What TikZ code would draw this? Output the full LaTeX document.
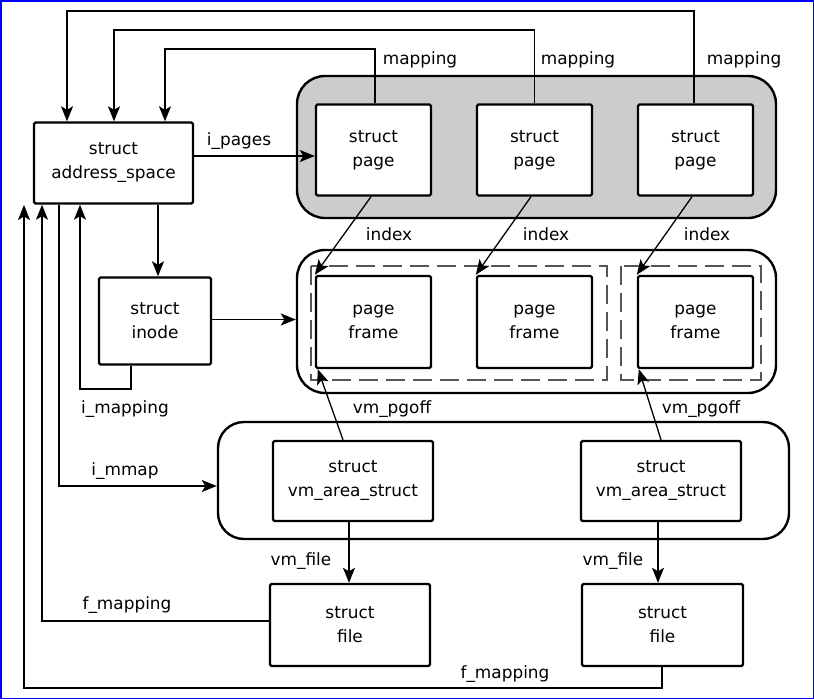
\documentclass[tikz,border=0pt]{standalone}
\usepackage{fontspec}
\setmainfont{DejaVu Sans}
\usetikzlibrary{arrows.meta,calc}
\definecolor{grp}{HTML}{CCCCCC}
\definecolor{dashc}{HTML}{555555}
\tikzset{
  box/.style={draw=black,line width=2.4pt,fill=white,rounded corners=1.5pt,align=center,inner sep=0pt,font=\fontsize{16.9}{24}\selectfont},
  grpbox/.style={draw=black,line width=2.4pt,rounded corners=28pt,inner sep=0pt},
  dashbox/.style={draw=dashc,line width=1.2pt,dash pattern=on 19pt off 8pt},
  conn/.style={draw=black,line width=1.3pt},
  arr/.style={conn,-{Stealth[length=15pt,width=12pt,inset=3.5pt]}},
  lbl/.style={font=\fontsize{16.9}{24}\selectfont,anchor=base,inner sep=0pt},
}
\begin{document}
\begin{tikzpicture}[x=1pt,y=-1pt]
\useasboundingbox (0,0) rectangle (814,699);
\draw[blue,line width=1.5pt] (0.75,0.75) rectangle (813.25,698.25);

% groups
\node[grpbox,fill=grp,minimum width=479pt,minimum height=142pt] (pg) at (536.5,147) {};
\node[grpbox,fill=white,minimum width=479pt,minimum height=143pt] (pfg) at (536.5,321.5) {};
\node[grpbox,fill=white,minimum width=571pt,minimum height=117pt,rounded corners=26pt] (vmg) at (503.5,480.5) {};

% dashed rectangles
\draw[dashbox] (311,266) rectangle (607,380);
\draw[dashbox] (621,266) rectangle (761,380);

% boxes
\node[box,minimum width=159pt,minimum height=81pt] (as) at (113.5,163) {struct\\address\_space};
\node[box,minimum width=115pt,minimum height=91pt] (p1) at (373.5,150) {struct\\page};
\node[box,minimum width=115pt,minimum height=91pt] (p2) at (534.5,150) {struct\\page};
\node[box,minimum width=115pt,minimum height=91pt] (p3) at (695.5,150) {struct\\page};
\node[box,minimum width=115pt,minimum height=92pt] (f1p) at (373.5,322) {page\\frame};
\node[box,minimum width=115pt,minimum height=92pt] (f2p) at (534.5,322) {page\\frame};
\node[box,minimum width=115pt,minimum height=92pt] (f3p) at (695.5,322) {page\\frame};
\node[box,minimum width=112pt,minimum height=87pt] (inode) at (155,321) {struct\\inode};
\node[box,minimum width=160pt,minimum height=80pt] (vm1) at (353,481) {struct\\vm\_area\_struct};
\node[box,minimum width=160pt,minimum height=80pt] (vm2) at (661,481) {struct\\vm\_area\_struct};
\node[box,minimum width=160pt,minimum height=82pt] (fl1) at (350,625) {struct\\file};
\node[box,minimum width=161pt,minimum height=82pt] (fl2) at (662.5,625) {struct\\file};

% mapping connectors
\coordinate (m1) at (165,49);
\coordinate (m2) at (114,30);
\coordinate (m3) at (67,11);
\draw[arr] ([xshift=1.5pt]p1.north) |- (m1) -- (m1 |- as.north);
\draw[arr] (p2.north) |- (m2) -- (m2 |- as.north);
\draw[arr] ([xshift=-1.5pt]p3.north) |- (m3) -- (m3 |- as.north);
\node[lbl] at (420,64) {mapping};
\node[lbl] at (578,64) {mapping};
\node[lbl] at (744,64) {mapping};

% i_pages
\draw[arr] ([yshift=7pt]as.east) -- ([yshift=7pt]as.east -| p1.west);
\node[lbl] at (239,145) {i\_pages};

% address_space -> inode
\draw[arr] ([xshift=3pt]inode.north |- as.south) -- ([xshift=3pt]inode.north);
% inode -> page frame group
\draw[arr] ([yshift=1.5pt]inode.east) -- ([yshift=1.5pt]inode.east -| pfg.west);

% i_mapping
\coordinate (im) at (80,389);
\draw[arr] ([xshift=-24pt]inode.south) |- (im) -- (im |- as.south);
\node[lbl] at (125,413) {i\_mapping};

% i_mmap
\coordinate (mm) at (59,486);
\draw[arr] (mm |- as.south) -- (mm) -- (mm -| vmg.west);
\node[lbl] at (125,475) {i\_mmap};

% index
\draw[arr] ([xshift=-2.5pt]p1.south) -- (f1p.north west);
\draw[arr] ([xshift=-3.5pt]p2.south) -- (f2p.north west);
\draw[arr] ([xshift=-3.5pt]p3.south) -- (f3p.north west);
\node[lbl] at (389,240) {index};
\node[lbl] at (546,240) {index};
\node[lbl] at (707,240) {index};

% vm_pgoff
\draw[arr] ([xshift=-10pt]vm1.north) -- ([xshift=3pt]f1p.south west);
\draw[arr] (vm2.north) -- ([xshift=2pt]f3p.south west);
\node[lbl] at (392,413) {vm\_pgoff};
\node[lbl] at (701,413) {vm\_pgoff};

% vm_file
\draw[arr] ([xshift=-4pt]vm1.south) -- ([xshift=-4pt]vm1.south |- fl1.north);
\draw[arr] ([xshift=-3pt]vm2.south) -- ([xshift=-3pt]vm2.south |- fl2.north);
\node[lbl] at (301,565) {vm\_file};
\node[lbl] at (613,565) {vm\_file};

% f_mapping
\coordinate (fm1) at (42,621);
\draw[arr] (fm1 -| fl1.west) -- (fm1) -- (fm1 |- as.south);
\node[lbl] at (127,609) {f\_mapping};
\coordinate (fm2) at (24,688);
\coordinate (fm2end) at (24,205);
\draw[arr] ([xshift=-0.5pt]fl2.south) |- (fm2) -- (fm2end);
\node[lbl] at (505,678) {f\_mapping};
\end{tikzpicture}
\end{document}
